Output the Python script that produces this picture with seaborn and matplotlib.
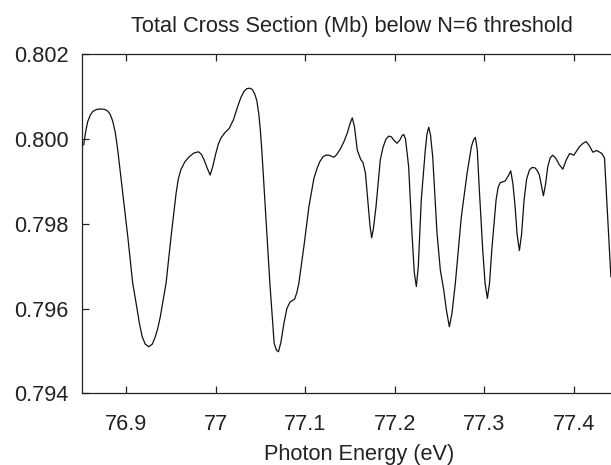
import matplotlib
matplotlib.use("Agg")
import matplotlib.pyplot as plt
import seaborn as sns
import pandas as pd

# Photon energy (eV) sampled along the resonance structure
energy = [
    76.8522, 76.8545, 76.8567, 76.8595, 76.8623, 76.8668, 76.8716, 76.8757,
    76.8791, 76.8819, 76.8847, 76.8875, 76.8903, 76.8959, 76.9015, 76.9070,
    76.9104, 76.9145, 76.9177, 76.9210, 76.9249, 76.9289, 76.9322, 76.9350,
    76.9378, 76.9406, 76.9443, 76.9499, 76.9555, 76.9579, 76.9607, 76.9652,
    76.9700, 76.9753, 76.9805, 76.9837, 76.9868, 76.9902, 76.9935, 76.9965,
    76.9999, 77.0027, 77.0055, 77.0100, 77.0148, 77.0195, 77.0242, 77.0279,
    77.0312, 77.0346, 77.0379, 77.0407, 77.0435, 77.0458, 77.0480, 77.0497,
    77.0513, 77.0558, 77.0603, 77.0651, 77.0676, 77.0699, 77.0726, 77.0760,
    77.0793, 77.0827, 77.0855, 77.0879, 77.0905, 77.0927, 77.0983, 77.1039,
    77.1095, 77.1129, 77.1162, 77.1196, 77.1226, 77.1263, 77.1319, 77.1352,
    77.1394, 77.1431, 77.1468, 77.1498, 77.1524, 77.1548, 77.1580, 77.1618,
    77.1643, 77.1671, 77.1703, 77.1722, 77.1741, 77.1761, 77.1789, 77.1837,
    77.1867, 77.1901, 77.1931, 77.1962, 77.1990, 77.2024, 77.2057, 77.2080,
    77.2099, 77.2119, 77.2154, 77.2191, 77.2217, 77.2240, 77.2262, 77.2295,
    77.2340, 77.2359, 77.2378, 77.2398, 77.2423, 77.2471, 77.2508, 77.2546,
    77.2577, 77.2609, 77.2639, 77.2676, 77.2743, 77.2807, 77.2855, 77.2879,
    77.2899, 77.2921, 77.2944, 77.2982, 77.3008, 77.3034, 77.3058, 77.3083,
    77.3131, 77.3153, 77.3176, 77.3232, 77.3265, 77.3295, 77.3319, 77.3344,
    77.3366, 77.3392, 77.3416, 77.3444, 77.3472, 77.3504, 77.3534, 77.3567,
    77.3593, 77.3615, 77.3638, 77.3660, 77.3685, 77.3709, 77.3735, 77.3763,
    77.3797, 77.3836, 77.3877, 77.3914, 77.3953, 77.4000, 77.4032, 77.4063,
    77.4104, 77.4138, 77.4171, 77.4213, 77.4257, 77.4313, 77.4343, 77.4362,
    77.4387, 77.4414,
]

# Total cross section (Mb)
cross_section = [
    0.79986, 0.80018, 0.80041, 0.80056, 0.80065, 0.80070, 0.80071, 0.80070,
    0.80066, 0.80058, 0.80042, 0.80016, 0.79974, 0.79872, 0.79770, 0.79660,
    0.79618, 0.79565, 0.79533, 0.79516, 0.79510, 0.79516, 0.79533, 0.79553,
    0.79580, 0.79615, 0.79660, 0.79770, 0.79872, 0.79905, 0.79927, 0.79946,
    0.79958, 0.79967, 0.79970, 0.79964, 0.79951, 0.79932, 0.79915, 0.79935,
    0.79966, 0.79988, 0.80002, 0.80015, 0.80025, 0.80045, 0.80076, 0.80098,
    0.80112, 0.80119, 0.80120, 0.80117, 0.80106, 0.80090, 0.80058, 0.80020,
    0.79974, 0.79817, 0.79660, 0.79518, 0.79502, 0.79498, 0.79520, 0.79565,
    0.79600, 0.79615, 0.79619, 0.79622, 0.79638, 0.79660, 0.79746, 0.79840,
    0.79907, 0.79930, 0.79947, 0.79958, 0.79962, 0.79962, 0.79957, 0.79964,
    0.79978, 0.79994, 0.80014, 0.80036, 0.80050, 0.80030, 0.79974, 0.79952,
    0.79945, 0.79920, 0.79840, 0.79795, 0.79767, 0.79790, 0.79840, 0.79951,
    0.79980, 0.80000, 0.80007, 0.80005, 0.79997, 0.79990, 0.79998, 0.80008,
    0.80011, 0.80000, 0.79935, 0.79778, 0.79685, 0.79652, 0.79700, 0.79856,
    0.79974, 0.80012, 0.80028, 0.80010, 0.79958, 0.79778, 0.79691, 0.79644,
    0.79595, 0.79557, 0.79590, 0.79660, 0.79817, 0.79919, 0.79982, 0.79998,
    0.80004, 0.79975, 0.79880, 0.79738, 0.79660, 0.79624, 0.79660, 0.79738,
    0.79856, 0.79885, 0.79897, 0.79901, 0.79912, 0.79925, 0.79895, 0.79840,
    0.79775, 0.79737, 0.79775, 0.79856, 0.79905, 0.79927, 0.79933, 0.79932,
    0.79925, 0.79915, 0.79890, 0.79866, 0.79895, 0.79935, 0.79955, 0.79962,
    0.79955, 0.79940, 0.79929, 0.79950, 0.79966, 0.79962, 0.79972, 0.79982,
    0.79990, 0.79994, 0.79985, 0.79969, 0.79973, 0.79966, 0.79955, 0.79880,
    0.79778, 0.79675,
]

x_ticks = [76.9, 77.0, 77.1, 77.2, 77.3, 77.4]
x_tick_labels = ["76.9", "77", "77.1", "77.2", "77.3", "77.4"]
y_ticks = [0.794, 0.796, 0.798, 0.800, 0.802]
y_tick_labels = ["0.794", "0.796", "0.798", "0.800", "0.802"]

title = "Total Cross Section (Mb) below N=6 threshold"
x_label = "Photon Energy (eV)"

sns.set_theme(style="ticks")
plt.rcParams["font.family"] = ["Liberation Sans", "DejaVu Sans"]

df = pd.DataFrame({"energy": energy, "cross_section": cross_section})

fig = plt.figure(figsize=(6.11, 4.65), dpi=100)
ax = fig.add_axes([0.1337, 0.1542, 0.886, 0.729])

sns.lineplot(data=df, x="energy", y="cross_section", ax=ax, sort=False,
             estimator=None, color="#111111", linewidth=0.9)

ax.set_xlim(76.85, 77.455)
ax.set_ylim(0.794, 0.802)
ax.set_xticks(x_ticks)
ax.set_xticklabels(x_tick_labels)
ax.set_yticks(y_ticks)
ax.set_yticklabels(y_tick_labels)

for side in ["left", "top", "bottom"]:
    ax.spines[side].set_linewidth(0.9)
    ax.spines[side].set_color("#222222")
ax.spines["right"].set_visible(False)

ax.tick_params(axis="x", direction="in", top=True, bottom=True, length=4.8,
               width=0.9, pad=15, labelsize=15.7, colors="#222222")
ax.tick_params(axis="y", direction="in", left=True, right=False, length=4.8,
               width=0.9, pad=9.6, labelsize=15.7, colors="#222222")

ax.set_xlabel(x_label, fontsize=15.7, labelpad=6.5, color="#222222")
ax.xaxis.label.set_x(0.512)
ax.set_ylabel("")
ax.set_title(title, fontsize=15.7, pad=16, color="#222222")

fig.savefig("out.png", dpi=100)
